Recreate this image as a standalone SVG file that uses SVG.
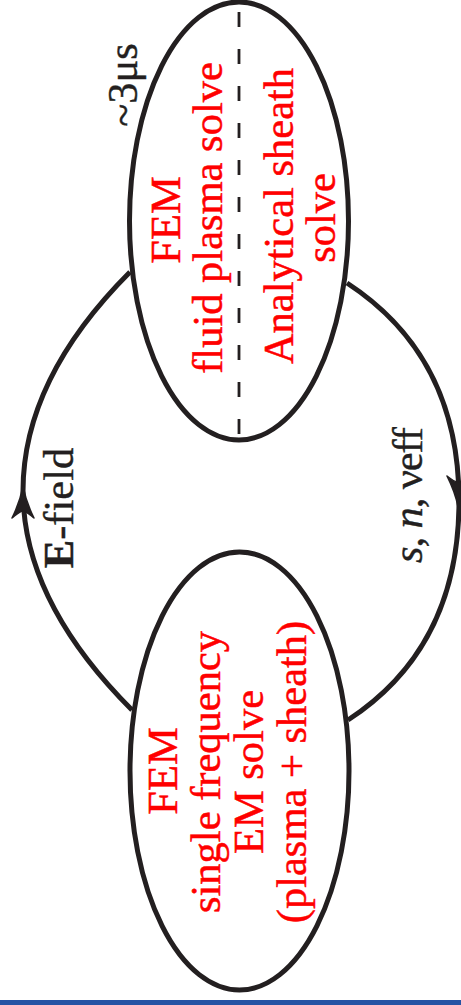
<svg xmlns="http://www.w3.org/2000/svg" width="461" height="1005" viewBox="0 0 461 1005">
<style>
.bg{fill:#ffffff}
.node{fill:none;stroke:#231f20;stroke-width:5}
.conn{fill:none;stroke:#231f20;stroke-width:5}
.head{fill:#231f20;stroke:#231f20;stroke-width:1.5;stroke-linejoin:round}
.dash{stroke:#231f20;stroke-width:2.8;stroke-dasharray:15 22}
.red{font-family:"Liberation Serif","Times New Roman",serif;font-size:42.5px;fill:#ff0000;stroke:#ff0000;stroke-width:0.5;text-anchor:middle}
.lbl{font-family:"Liberation Serif","Times New Roman",serif;font-size:42.5px;fill:#231f20;stroke:#231f20;stroke-width:0.4;text-anchor:middle}
</style>
<rect class="bg" x="0" y="0" width="461" height="1005"/>
<g id="connectors">
  <path class="conn" d="M132,710 C78,656 23,581 23,491 C23,401 76,326 130,272"/>
  <path class="head" d="M23,486 C25,497 29,508 34,518 C29,514 26,511 23,511 C20,511 17,514 12,518 C17,508 21,497 23,486 Z"/>
  <path class="conn" d="M347,283 C422,332 459,406 459,501 C459,596 423,671 348,720"/>
  <path class="head" d="M458,507 C456,496 452,486 447,476 C452,480 455,482 458,482 C461,482 464,480 469,476 C464,486 460,496 458,507 Z"/>
  <text class="lbl" transform="translate(73,508) rotate(-90)"><tspan font-weight="bold">E</tspan>-field</text>
  <text class="lbl" transform="translate(422,495) rotate(-90)" textLength="136" lengthAdjust="spacing"><tspan font-style="italic">s</tspan>, <tspan font-style="italic">n</tspan>, νeff</text>
</g>
<g id="plasma-node">
  <ellipse class="node" cx="239" cy="221" rx="109.5" ry="219"/>
  <line class="dash" x1="239" y1="12" x2="239" y2="440"/>
  <text class="red" transform="translate(180,220) rotate(-90)">FEM</text>
  <text class="red" transform="translate(222,218) rotate(-90)">fluid plasma solve</text>
  <text class="red" transform="translate(293,216) rotate(-90)">Analytical sheath</text>
  <text class="red" transform="translate(335,218) rotate(-90)">solve</text>
  <text class="lbl" transform="translate(137,85) rotate(-90)">~3μs</text>
</g>
<g id="em-node">
  <ellipse class="node" cx="239.5" cy="771" rx="109.5" ry="219"/>
  <text class="red" transform="translate(177,771) rotate(-90)">FEM</text>
  <text class="red" transform="translate(220,772) rotate(-90)">single frequency</text>
  <text class="red" transform="translate(263,772) rotate(-90)">EM solve</text>
  <text class="red" transform="translate(306,772) rotate(-90)">(plasma + sheath)</text>
</g>
<rect x="0" y="1000" width="461" height="5" fill="#2553a4"/>
</svg>
